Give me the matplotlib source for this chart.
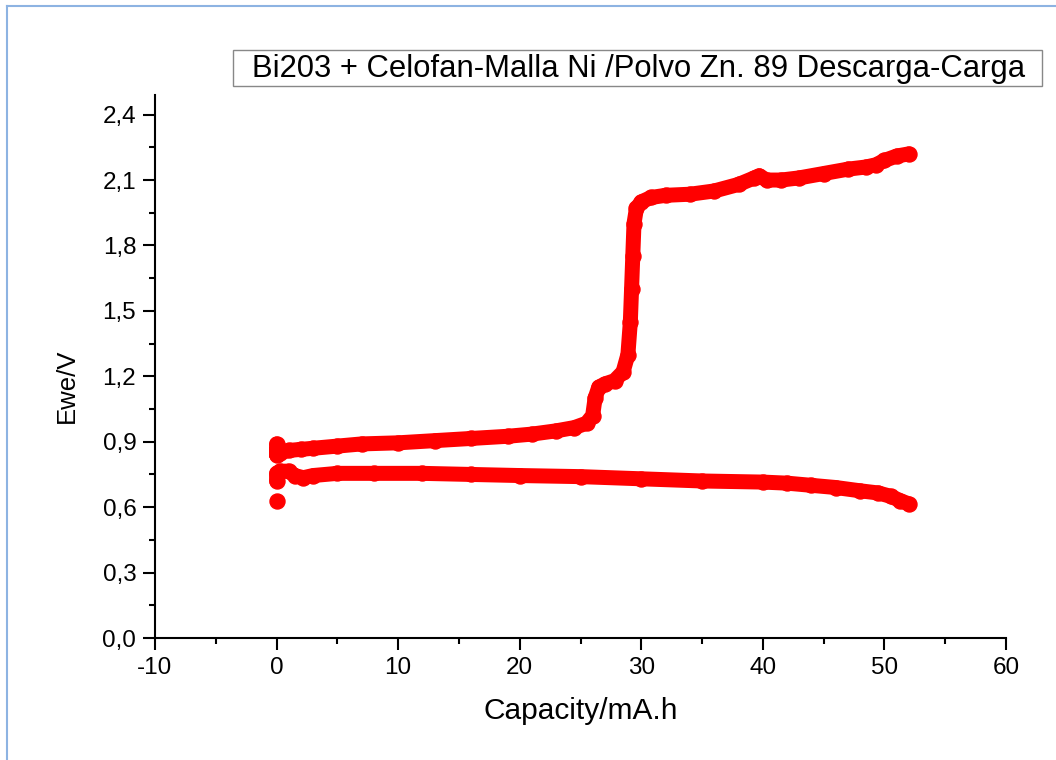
import matplotlib
matplotlib.use("Agg")
import matplotlib.pyplot as plt
from matplotlib.lines import Line2D
from matplotlib.patches import Rectangle
from matplotlib.ticker import MultipleLocator

plt.rcParams["font.family"] = ["Liberation Sans", "DejaVu Sans"]

# Carga (curva superior)
carga_cap = [0, 0, 0, 0.3, 1, 2, 3, 5, 7, 10, 13, 16, 19, 21, 23, 24.5, 25.5,
             26, 26.2, 26.5, 27, 27.8, 28.5, 28.9, 29.1, 29.2, 29.3, 29.4, 29.6,
             30, 30.8, 32, 34, 36, 38, 39.3, 39.7, 40.3, 41.5, 43, 45, 47, 48.5,
             49.3, 50, 51, 52]
carga_ewe = [0.89, 0.84, 0.86, 0.85, 0.86, 0.865, 0.87, 0.88, 0.89, 0.895,
             0.905, 0.915, 0.925, 0.935, 0.95, 0.965, 0.985, 1.02, 1.10, 1.15,
             1.165, 1.18, 1.22, 1.30, 1.45, 1.60, 1.75, 1.90, 1.97, 2.00, 2.02,
             2.03, 2.035, 2.05, 2.08, 2.11, 2.12, 2.10, 2.10, 2.11, 2.13, 2.15,
             2.16, 2.17, 2.19, 2.21, 2.22]

# Descarga (curva inferior)
descarga_cap = [0, 0, 0.3, 1.0, 1.5, 2.2, 3, 5, 8, 12, 16, 20, 25, 30, 35, 40,
                42, 44, 46, 48, 49.5, 50.5, 51.3, 52]
descarga_ewe = [0.72, 0.755, 0.765, 0.765, 0.745, 0.735, 0.745, 0.755, 0.755,
                0.755, 0.75, 0.745, 0.74, 0.73, 0.72, 0.715, 0.71, 0.70, 0.69,
                0.675, 0.665, 0.65, 0.63, 0.615]

# primer punto suelto de la descarga
punto_cap = [0]
punto_ewe = [0.63]

yticks = [0.0, 0.3, 0.6, 0.9, 1.2, 1.5, 1.8, 2.1, 2.4]
ytick_labels = ["0,0", "0,3", "0,6", "0,9", "1,2", "1,5", "1,8", "2,1", "2,4"]
xticks = [-10, 0, 10, 20, 30, 40, 50, 60]

titulo = "Bi203 + Celofan-Malla Ni /Polvo Zn. 89 Descarga-Carga"

W, H = 1056, 760
fig = plt.figure(figsize=(W / 100, H / 100), dpi=100)
ax = fig.add_axes([155 / W, 1 - 638 / H, 851 / W, 543 / H])

estilo = dict(color="#ff0000", lw=10.8, marker="o", ms=10.8,
              solid_capstyle="round", solid_joinstyle="round")
ax.plot(carga_cap, carga_ewe, **estilo)
ax.plot(descarga_cap, descarga_ewe, **estilo)
ax.plot(punto_cap, punto_ewe, ls="none", marker="o", ms=10.8, color="#ff0000")

ax.set_xlim(-10, 60)
ax.set_ylim(0, 2.49)
ax.set_xticks(xticks)
ax.set_xticklabels([str(v) for v in xticks])
ax.set_yticks(yticks)
ax.set_yticklabels(ytick_labels)
ax.xaxis.set_minor_locator(MultipleLocator(5))
ax.yaxis.set_minor_locator(MultipleLocator(0.15))

for s in ["top", "right"]:
    ax.spines[s].set_visible(False)
for s in ["left", "bottom"]:
    ax.spines[s].set_linewidth(1.5)

ax.tick_params(which="major", direction="out", length=8.5, width=1.5,
               labelsize=17.5, pad=5)
ax.tick_params(which="minor", direction="out", length=4.5, width=1.5)

ax.set_xlabel("Capacity/mA.h", fontsize=21.5, labelpad=13)
ax.set_ylabel("Ewe/V", fontsize=18.5)
ax.yaxis.set_label_coords(-0.09, 0.464)

# recuadro del título
fig.add_artist(Rectangle((233 / W, 1 - 86 / H), 809 / W, 36 / H,
                         transform=fig.transFigure, fc="white",
                         ec="#888888", lw=1))
fig.text(638.5 / W, 1 - 69 / H, titulo, fontsize=22.3, ha="center",
         va="center")

# marco azul claro
fig.add_artist(Line2D([7 / W, 7 / W], [0, 1 - 6 / H], color="#8db3e2", lw=1.5))
fig.add_artist(Line2D([7 / W, 1], [1 - 6 / H, 1 - 6 / H], color="#8db3e2", lw=1.5))

fig.savefig("out.png", dpi=100)
